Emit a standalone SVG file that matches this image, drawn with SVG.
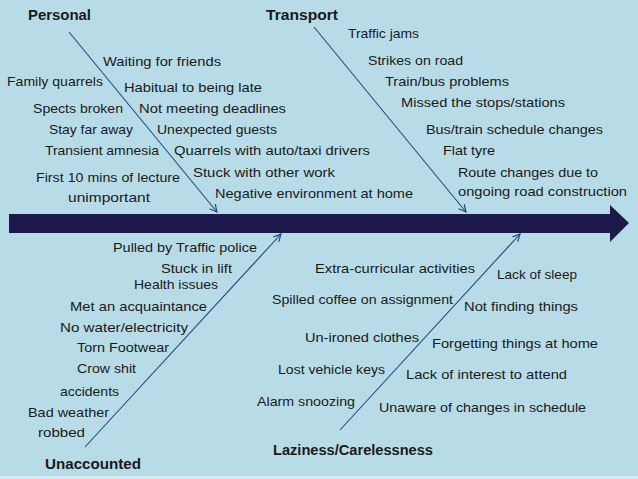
<svg xmlns="http://www.w3.org/2000/svg" width="638" height="479" viewBox="0 0 638 479">
<defs>
<style>
text{font-family:"Liberation Sans",Arial,sans-serif;font-size:13px;fill:#1a1a1a}
.h{font-weight:bold;font-size:14px}
.b{stroke:#1f4a80;stroke-width:1.1;fill:none;marker-end:url(#ah)}
</style>
<marker id="ah" viewBox="0 0 10 10" refX="9" refY="5" markerWidth="9" markerHeight="9" markerUnits="userSpaceOnUse" orient="auto">
<path d="M1,1 L9,5 L1,9" fill="none" stroke="#1f4a80" stroke-width="1.3"/>
</marker>
</defs>
<rect width="638" height="479" fill="#b7dce7"/>
<rect y="476" width="638" height="3" fill="#d3eaf0"/>
<g id="spine">
<path d="M9,214 H610 V205 L629,223 L610,242 V233 H9 Z" fill="#1c1a4c"/>
</g>
<g id="connectors">
<line class="b" x1="69" y1="32" x2="217" y2="212"/>
<line class="b" x1="314" y1="27" x2="466" y2="212"/>
<line class="b" x1="85" y1="447" x2="281" y2="234"/>
<line class="b" x1="340" y1="430" x2="520" y2="234"/>
</g>
<g id="personal">
<text class="h" x="28" y="20" textLength="63" lengthAdjust="spacingAndGlyphs">Personal</text>
<text x="103" y="66" textLength="118" lengthAdjust="spacingAndGlyphs">Waiting for friends</text>
<text x="7" y="86" textLength="96" lengthAdjust="spacingAndGlyphs">Family quarrels</text>
<text x="124" y="92" textLength="138" lengthAdjust="spacingAndGlyphs">Habitual to being late</text>
<text x="33" y="113" textLength="90" lengthAdjust="spacingAndGlyphs">Spects broken</text>
<text x="139" y="113" textLength="147" lengthAdjust="spacingAndGlyphs">Not meeting deadlines</text>
<text x="49" y="134" textLength="84" lengthAdjust="spacingAndGlyphs">Stay far away</text>
<text x="157" y="134" textLength="120" lengthAdjust="spacingAndGlyphs">Unexpected guests</text>
<text x="45" y="155" textLength="114" lengthAdjust="spacingAndGlyphs">Transient amnesia</text>
<text x="174" y="155" textLength="196" lengthAdjust="spacingAndGlyphs">Quarrels with auto/taxi drivers</text>
<text x="36" y="182" textLength="144" lengthAdjust="spacingAndGlyphs">First 10 mins of lecture</text>
<text x="68" y="202" textLength="82" lengthAdjust="spacingAndGlyphs">unimportant</text>
<text x="193" y="177" textLength="142" lengthAdjust="spacingAndGlyphs">Stuck with other work</text>
<text x="215" y="198" textLength="198" lengthAdjust="spacingAndGlyphs">Negative environment at home</text>
</g>
<g id="transport">
<text class="h" x="266" y="20" textLength="72" lengthAdjust="spacingAndGlyphs">Transport</text>
<text x="348" y="38" textLength="71" lengthAdjust="spacingAndGlyphs">Traffic jams</text>
<text x="368" y="65" textLength="95" lengthAdjust="spacingAndGlyphs">Strikes on road</text>
<text x="385" y="86" textLength="124" lengthAdjust="spacingAndGlyphs">Train/bus problems</text>
<text x="401" y="107" textLength="164" lengthAdjust="spacingAndGlyphs">Missed the stops/stations</text>
<text x="426" y="134" textLength="177" lengthAdjust="spacingAndGlyphs">Bus/train schedule changes</text>
<text x="443" y="155" textLength="52" lengthAdjust="spacingAndGlyphs">Flat tyre</text>
<text x="458" y="177" textLength="140" lengthAdjust="spacingAndGlyphs">Route changes due to</text>
<text x="458" y="196" textLength="169" lengthAdjust="spacingAndGlyphs">ongoing road construction</text>
</g>
<g id="unaccounted">
<text x="113" y="252" textLength="144" lengthAdjust="spacingAndGlyphs">Pulled by Traffic police</text>
<text x="161" y="273" textLength="71" lengthAdjust="spacingAndGlyphs">Stuck in lift</text>
<text x="134" y="289" textLength="84" lengthAdjust="spacingAndGlyphs">Health issues</text>
<text x="70" y="311" textLength="137" lengthAdjust="spacingAndGlyphs">Met an acquaintance</text>
<text x="60" y="332" textLength="128" lengthAdjust="spacingAndGlyphs">No water/electricity</text>
<text x="77" y="352" textLength="92" lengthAdjust="spacingAndGlyphs">Torn Footwear</text>
<text x="77" y="373" textLength="59" lengthAdjust="spacingAndGlyphs">Crow shit</text>
<text x="60" y="396" textLength="59" lengthAdjust="spacingAndGlyphs">accidents</text>
<text x="28" y="417" textLength="81" lengthAdjust="spacingAndGlyphs">Bad weather</text>
<text x="38" y="437" textLength="47" lengthAdjust="spacingAndGlyphs">robbed</text>
<text class="h" x="45" y="469" textLength="96" lengthAdjust="spacingAndGlyphs">Unaccounted</text>
</g>
<g id="laziness">
<text x="315" y="273" textLength="160" lengthAdjust="spacingAndGlyphs">Extra-curricular activities</text>
<text x="497" y="279" textLength="80" lengthAdjust="spacingAndGlyphs">Lack of sleep</text>
<text x="272" y="304" textLength="181" lengthAdjust="spacingAndGlyphs">Spilled coffee on assignment</text>
<text x="464" y="311" textLength="114" lengthAdjust="spacingAndGlyphs">Not finding things</text>
<text x="305" y="342" textLength="114" lengthAdjust="spacingAndGlyphs">Un-ironed clothes</text>
<text x="432" y="348" textLength="166" lengthAdjust="spacingAndGlyphs">Forgetting things at home</text>
<text x="278" y="374" textLength="107" lengthAdjust="spacingAndGlyphs">Lost vehicle keys</text>
<text x="406" y="379" textLength="161" lengthAdjust="spacingAndGlyphs">Lack of interest to attend</text>
<text x="257" y="406" textLength="98" lengthAdjust="spacingAndGlyphs">Alarm snoozing</text>
<text x="379" y="412" textLength="207" lengthAdjust="spacingAndGlyphs">Unaware of changes in schedule</text>
<text class="h" x="273" y="455" textLength="160" lengthAdjust="spacingAndGlyphs">Laziness/Carelessness</text>
</g>
</svg>
